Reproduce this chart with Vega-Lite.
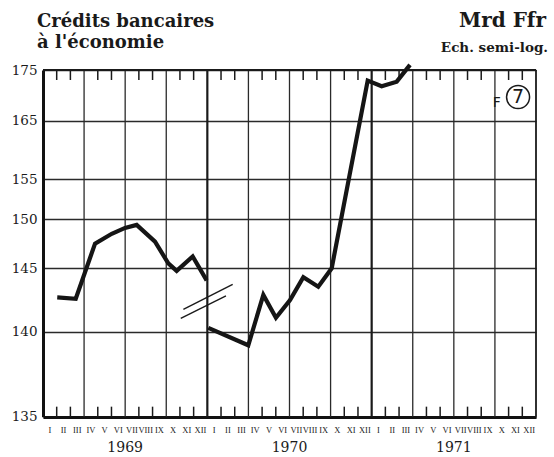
{
  "$schema": "https://vega.github.io/schema/vega-lite/v6.json",
  "autosize": "none",
  "width": 493,
  "height": 347,
  "padding": {"left": 43, "top": 70, "right": 18, "bottom": 40},
  "background": "white",
  "config": {"view": {"stroke": null}},
  "datasets": {
    "credits": [
      {"seg": "1969", "m": 1.04, "v": 142.7},
      {"seg": "1969", "m": 2.39, "v": 142.6},
      {"seg": "1969", "m": 3.8, "v": 147.5},
      {"seg": "1969", "m": 5.02, "v": 148.5},
      {"seg": "1969", "m": 5.99, "v": 149.1},
      {"seg": "1969", "m": 6.84, "v": 149.4},
      {"seg": "1969", "m": 8.18, "v": 147.7},
      {"seg": "1969", "m": 9.15, "v": 145.5},
      {"seg": "1969", "m": 9.76, "v": 144.8},
      {"seg": "1969", "m": 10.93, "v": 146.2},
      {"seg": "1969", "m": 11.95, "v": 144.05},
      {"seg": "1970", "m": 12.07, "v": 140.3},
      {"seg": "1970", "m": 14.99, "v": 139.2},
      {"seg": "1970", "m": 16.09, "v": 142.9},
      {"seg": "1970", "m": 17.01, "v": 141.1},
      {"seg": "1970", "m": 18.04, "v": 142.5},
      {"seg": "1970", "m": 19.01, "v": 144.3},
      {"seg": "1970", "m": 20.1, "v": 143.55},
      {"seg": "1970", "m": 21.08, "v": 145.0},
      {"seg": "1970", "m": 23.71, "v": 172.9},
      {"seg": "1970", "m": 24.73, "v": 171.8},
      {"seg": "1970", "m": 25.83, "v": 172.7},
      {"seg": "1970", "m": 26.8, "v": 176.0}
    ],
    "breakmark": [
      {"seg": "b1", "m": 10.25, "v": 141.77},
      {"seg": "b1", "m": 13.85, "v": 143.74},
      {"seg": "b2", "m": 10.06, "v": 141.06},
      {"seg": "b2", "m": 13.36, "v": 142.82}
    ],
    "monthTicks": [
      {"m": 1}, {"m": 2}, {"m": 4}, {"m": 5}, {"m": 7}, {"m": 8}, {"m": 10}, {"m": 11},
      {"m": 13}, {"m": 14}, {"m": 16}, {"m": 17}, {"m": 19}, {"m": 20}, {"m": 22}, {"m": 23},
      {"m": 25}, {"m": 26}, {"m": 28}, {"m": 29}, {"m": 31}, {"m": 32}, {"m": 34}, {"m": 35}
    ],
    "monthLabels": [
      {"m": 0.5, "mois": "I"}, {"m": 1.5, "mois": "II"}, {"m": 2.5, "mois": "III"}, {"m": 3.5, "mois": "IV"},
      {"m": 4.5, "mois": "V"}, {"m": 5.5, "mois": "VI"}, {"m": 6.5, "mois": "VII"}, {"m": 7.5, "mois": "VIII"},
      {"m": 8.5, "mois": "IX"}, {"m": 9.5, "mois": "X"}, {"m": 10.5, "mois": "XI"}, {"m": 11.5, "mois": "XII"},
      {"m": 12.5, "mois": "I"}, {"m": 13.5, "mois": "II"}, {"m": 14.5, "mois": "III"}, {"m": 15.5, "mois": "IV"},
      {"m": 16.5, "mois": "V"}, {"m": 17.5, "mois": "VI"}, {"m": 18.5, "mois": "VII"}, {"m": 19.5, "mois": "VIII"},
      {"m": 20.5, "mois": "IX"}, {"m": 21.5, "mois": "X"}, {"m": 22.5, "mois": "XI"}, {"m": 23.5, "mois": "XII"},
      {"m": 24.5, "mois": "I"}, {"m": 25.5, "mois": "II"}, {"m": 26.5, "mois": "III"}, {"m": 27.5, "mois": "IV"},
      {"m": 28.5, "mois": "V"}, {"m": 29.5, "mois": "VI"}, {"m": 30.5, "mois": "VII"}, {"m": 31.5, "mois": "VIII"},
      {"m": 32.5, "mois": "IX"}, {"m": 33.5, "mois": "X"}, {"m": 34.5, "mois": "XI"}, {"m": 35.5, "mois": "XII"}
    ],
    "quarters": [
      {"m": 3}, {"m": 6}, {"m": 9}, {"m": 15}, {"m": 18}, {"m": 21}, {"m": 27}, {"m": 30}, {"m": 33}
    ],
    "years": [{"m": 12}, {"m": 24}],
    "yearLabels": [
      {"year": "1969", "m": 6},
      {"year": "1970", "m": 18},
      {"year": "1971", "m": 30}
    ]
  },
  "layer": [
    {
      "data": {"name": "quarters"},
      "mark": {"type": "rule", "color": "#2a2a2a", "strokeWidth": 1.3},
      "encoding": {
        "x": {
          "field": "m",
          "type": "quantitative",
          "scale": {"domain": [0, 36], "nice": false, "zero": false},
          "axis": {
            "labels": false,
            "ticks": false,
            "tickSize": 0,
            "grid": false,
            "domain": true,
            "domainColor": "#111",
            "domainWidth": 3,
            "title": null
          }
        },
        "y": {
          "datum": 135,
          "type": "quantitative",
          "scale": {
            "domain": [135, 140, 145, 150, 155, 165, 175],
            "range": [346.7, 261.7, 198.3, 149, 109.3, 50.7, 0],
            "nice": false,
            "zero": false
          },
          "axis": {
            "values": [135, 140, 145, 150, 155, 165, 175],
            "labelFont": "DejaVu Serif",
            "labelFontSize": 13.5,
            "labelColor": "#1a1a1a",
            "labelPadding": 6,
            "ticks": false,
            "tickSize": 0,
            "grid": true,
            "gridColor": "#2a2a2a",
            "gridWidth": 1.3,
            "gridOpacity": 1,
            "domain": true,
            "domainColor": "#111",
            "domainWidth": 3,
            "title": null
          }
        },
        "y2": {"datum": 175}
      }
    },
    {
      "data": {"name": "years"},
      "mark": {"type": "rule", "color": "#1a1a1a", "strokeWidth": 2.2},
      "encoding": {
        "x": {"field": "m", "type": "quantitative"},
        "y": {"datum": 135, "type": "quantitative"},
        "y2": {"datum": 175}
      }
    },
    {
      "data": {"name": "monthTicks"},
      "mark": {"type": "rule", "color": "#1a1a1a", "strokeWidth": 1.5},
      "encoding": {
        "x": {"field": "m", "type": "quantitative"},
        "y": {"datum": 135, "type": "quantitative"},
        "y2": {"datum": 135.59}
      }
    },
    {
      "data": {"name": "monthTicks"},
      "mark": {"type": "rule", "color": "#1a1a1a", "strokeWidth": 1.5},
      "encoding": {
        "x": {"field": "m", "type": "quantitative"},
        "y": {"datum": 175, "type": "quantitative"},
        "y2": {"datum": 173.03}
      }
    },
    {
      "data": {"values": [{"edge": "right"}]},
      "mark": {"type": "rule", "color": "#1a1a1a", "strokeWidth": 1.8},
      "encoding": {
        "x": {"datum": 36, "type": "quantitative"},
        "y": {"datum": 135, "type": "quantitative"},
        "y2": {"datum": 175}
      }
    },
    {
      "data": {"values": [{"edge": "top"}]},
      "mark": {"type": "rule", "color": "#1a1a1a", "strokeWidth": 1.8},
      "encoding": {
        "x": {"datum": 0, "type": "quantitative"},
        "x2": {"datum": 36},
        "y": {"datum": 175, "type": "quantitative"}
      }
    },
    {
      "data": {"name": "breakmark"},
      "mark": {"type": "line", "color": "#1a1a1a", "strokeWidth": 1.4},
      "encoding": {
        "x": {"field": "m", "type": "quantitative"},
        "y": {"field": "v", "type": "quantitative"},
        "detail": {"field": "seg"}
      }
    },
    {
      "data": {"name": "credits"},
      "mark": {"type": "line", "color": "#151515", "strokeWidth": 4.2, "strokeJoin": "miter", "clip": false},
      "encoding": {
        "x": {"field": "m", "type": "quantitative"},
        "y": {"field": "v", "type": "quantitative"},
        "detail": {"field": "seg"}
      }
    },
    {
      "data": {"name": "monthLabels"},
      "mark": {"type": "text", "font": "Liberation Serif", "fontSize": 8.5, "color": "#1a1a1a", "baseline": "middle", "align": "center"},
      "encoding": {
        "x": {"field": "m", "type": "quantitative"},
        "y": {"datum": 134.2, "type": "quantitative"},
        "text": {"field": "mois"}
      }
    },
    {
      "data": {"name": "yearLabels"},
      "mark": {"type": "text", "font": "DejaVu Serif", "fontSize": 14, "color": "#1a1a1a", "baseline": "alphabetic", "align": "center"},
      "encoding": {
        "x": {"field": "m", "type": "quantitative"},
        "y": {"datum": 132.9, "type": "quantitative"},
        "text": {"field": "year"}
      }
    },
    {
      "data": {"values": [{"t": "Crédits bancaires"}]},
      "mark": {"type": "text", "font": "DejaVu Serif", "fontSize": 18, "fontWeight": "bold", "color": "#1a1a1a", "align": "left", "baseline": "alphabetic"},
      "encoding": {
        "x": {"datum": -0.44, "type": "quantitative"},
        "y": {"datum": 183.48, "type": "quantitative"},
        "text": {"field": "t"}
      }
    },
    {
      "data": {"values": [{"t": "à l'économie"}]},
      "mark": {"type": "text", "font": "DejaVu Serif", "fontSize": 18, "fontWeight": "bold", "color": "#1a1a1a", "align": "left", "baseline": "alphabetic"},
      "encoding": {
        "x": {"datum": -0.44, "type": "quantitative"},
        "y": {"datum": 179.34, "type": "quantitative"},
        "text": {"field": "t"}
      }
    },
    {
      "data": {"values": [{"t": "Mrd Ffr"}]},
      "mark": {"type": "text", "font": "DejaVu Serif", "fontSize": 20, "fontWeight": "bold", "color": "#1a1a1a", "align": "right", "baseline": "alphabetic"},
      "encoding": {
        "x": {"datum": 36.73, "type": "quantitative"},
        "y": {"datum": 183.48, "type": "quantitative"},
        "text": {"field": "t"}
      }
    },
    {
      "data": {"values": [{"t": "Ech. semi-log."}]},
      "mark": {"type": "text", "font": "DejaVu Serif", "fontSize": 13.5, "fontWeight": "bold", "color": "#1a1a1a", "align": "right", "baseline": "alphabetic"},
      "encoding": {
        "x": {"datum": 36.88, "type": "quantitative"},
        "y": {"datum": 178.55, "type": "quantitative"},
        "text": {"field": "t"}
      }
    },
    {
      "data": {"values": [{"t": "7"}]},
      "mark": {"type": "point", "shape": "circle", "filled": false, "color": "#1a1a1a", "strokeWidth": 1.5, "size": 530, "opacity": 1},
      "encoding": {
        "x": {"datum": 34.69, "type": "quantitative"},
        "y": {"datum": 169.67, "type": "quantitative"}
      }
    },
    {
      "data": {"values": [{"t": "7"}]},
      "mark": {"type": "text", "font": "DejaVu Sans", "fontSize": 19, "color": "#1a1a1a", "align": "center", "baseline": "middle"},
      "encoding": {
        "x": {"datum": 34.69, "type": "quantitative"},
        "y": {"datum": 169.67, "type": "quantitative"},
        "text": {"field": "t"}
      }
    },
    {
      "data": {"values": [{"t": "F"}]},
      "mark": {"type": "text", "font": "DejaVu Sans", "fontSize": 14, "color": "#1a1a1a", "align": "center", "baseline": "middle"},
      "encoding": {
        "x": {"datum": 33.13, "type": "quantitative"},
        "y": {"datum": 168.43, "type": "quantitative"},
        "text": {"field": "t"}
      }
    }
  ]
}
